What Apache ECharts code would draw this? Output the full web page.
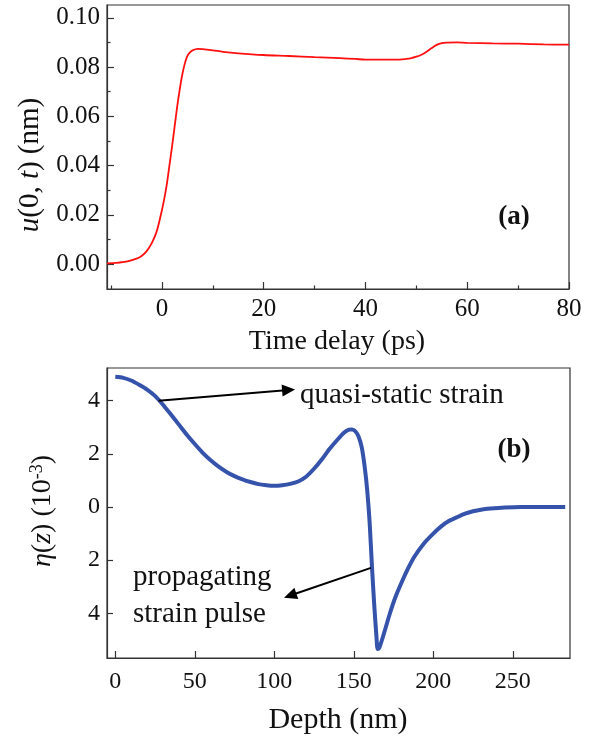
<!DOCTYPE html>
<html>
<head>
<meta charset="utf-8">
<script src="https://cdn.jsdelivr.net/npm/echarts@6/dist/echarts.min.js"></script>
<style>html,body{margin:0;padding:0;background:#fff;}#c{width:594px;height:739px;}</style>
</head>
<body>
<div id="c"></div>
<script>
// ---- Panel (a): surface displacement vs time delay ----
const timeDelay = [-10.8, -9, -7, -5, -4, -3, -2, -1, 0, 0.5, 1, 1.5, 2, 2.5, 3, 3.5, 4, 4.5, 5, 5.5, 6, 7, 8, 10, 12, 15, 20, 25, 30, 35, 38, 40, 43, 46, 48, 49, 50, 51, 52, 53, 54, 55, 56, 58, 60, 65, 70, 75, 80];
const displacement = [0.0003, 0.0005, 0.0010, 0.0022, 0.0033, 0.0053, 0.0085, 0.0135, 0.0220, 0.0270, 0.0330, 0.0405, 0.0480, 0.0560, 0.0640, 0.0710, 0.0770, 0.0815, 0.0845, 0.0860, 0.0868, 0.0874, 0.0873, 0.0868, 0.0862, 0.0856, 0.0849, 0.0845, 0.0840, 0.0836, 0.0833, 0.0830, 0.0830, 0.0830, 0.0833, 0.0836, 0.0842, 0.0850, 0.0862, 0.0877, 0.0890, 0.0897, 0.0899, 0.0900, 0.0898, 0.0896, 0.0895, 0.0892, 0.0891];
const timeTicks = [0, 20, 40, 60, 80];
const timeMinorTicks = [-10, 10, 30, 50, 70];
const uTicks = [0, 0.02, 0.04, 0.06, 0.08, 0.10];
const uMinorTicks = [0.01, 0.03, 0.05, 0.07, 0.09];

// ---- Panel (b): strain profile vs depth ----
const depth = [0, 5, 10, 15, 20, 25, 30, 35, 40, 45, 50, 55, 60, 65, 70, 75, 80, 85, 90, 95, 100, 105, 110, 115, 120, 125, 130, 135, 140, 144, 147, 149, 151, 153, 155, 157, 158.5, 160, 161.5, 163, 164.3, 165, 166, 168, 170, 173, 176, 180, 184, 188, 194, 200, 205, 210, 215, 220, 225, 230, 236, 245, 255, 270, 283];
const strain = [4.90, 4.86, 4.76, 4.60, 4.42, 4.18, 3.85, 3.48, 3.10, 2.72, 2.37, 2.04, 1.76, 1.52, 1.32, 1.16, 1.04, 0.94, 0.86, 0.82, 0.80, 0.82, 0.87, 0.96, 1.14, 1.44, 1.80, 2.20, 2.55, 2.80, 2.91, 2.92, 2.85, 2.65, 2.25, 1.45, 0.60, -0.60, -2.30, -3.80, -4.90, -5.34, -5.30, -4.95, -4.55, -3.95, -3.42, -2.85, -2.33, -1.88, -1.38, -1.00, -0.73, -0.52, -0.38, -0.25, -0.16, -0.10, -0.06, -0.02, 0, 0, 0];
const depthTicks = [0, 50, 100, 150, 200, 250];
const strainTicks = [-4, -2, 0, 2, 4];
// annotation arrows in data coordinates [depth, strain]
const arrowQuasi = [[27.2, 4.0], [109, 4.40]];
const arrowPulse = [[160.8, -2.29], [110, -3.33]];

const FONT = "'Liberation Serif','Times New Roman',serif";
const chart = echarts.init(document.getElementById('c'), null, {renderer: 'canvas'});

function zip(a, b) { return a.map((v, i) => [v, b[i]]); }

const TICK = {color: '#333', width: 1.2};
function tickAxis(grid, min, max, values, len, pos) {
  return {type: 'value', gridIndex: grid, min: min, max: max, position: pos,
    axisLine: {show: false, onZero: false},
    axisTick: {show: true, inside: true, length: len, customValues: values, lineStyle: TICK},
    axisLabel: {show: false}, splitLine: {show: false}};
}

const option = {
  backgroundColor: '#fff',
  animation: false,
  grid: [
    {left: 107, top: 5, width: 462, height: 284, show: true, borderColor: '#333', borderWidth: 1.2, backgroundColor: 'transparent'},
    {left: 107, top: 368, width: 463, height: 290, show: true, borderColor: '#333', borderWidth: 1.2, backgroundColor: 'transparent'}
  ],
  xAxis: [
    {type: 'value', gridIndex: 0, min: -10.8, max: 80, position: 'bottom',
      axisLine: {show: true, onZero: false, lineStyle: TICK},
      axisTick: {show: false},
      axisLabel: {customValues: timeTicks, color: '#111', fontFamily: FONT, fontSize: 25, margin: 8},
      splitLine: {show: false}},
    {type: 'value', gridIndex: 1, min: -5.2, max: 286, position: 'bottom',
      axisLine: {show: true, onZero: false, lineStyle: TICK},
      axisTick: {show: false},
      axisLabel: {customValues: depthTicks, color: '#111', fontFamily: FONT, fontSize: 24, margin: 12},
      splitLine: {show: false}},
    tickAxis(0, -10.8, 80, timeMinorTicks, 3.5, 'bottom'),
    tickAxis(0, -10.8, 80, timeTicks, 7, 'bottom'),
    tickAxis(1, -5.2, 286, depthTicks, 7, 'bottom')
  ],
  yAxis: [
    {type: 'value', gridIndex: 0, min: -0.0101, max: 0.1052, position: 'left',
      axisLine: {show: true, onZero: false, lineStyle: TICK},
      axisTick: {show: false},
      axisLabel: {customValues: uTicks, formatter: v => v.toFixed(2), color: '#111', fontFamily: FONT, fontSize: 25, margin: 7},
      splitLine: {show: false}},
    {type: 'value', gridIndex: 1, min: -5.68, max: 5.23, position: 'left',
      axisLine: {show: true, onZero: false, lineStyle: TICK},
      axisTick: {show: false},
      axisLabel: {customValues: strainTicks, formatter: v => String(Math.abs(v)), color: '#111', fontFamily: FONT, fontSize: 24, margin: 7},
      splitLine: {show: false}},
    tickAxis(0, -0.0101, 0.1052, uMinorTicks, 3.5, 'left'),
    tickAxis(0, -0.0101, 0.1052, uTicks, 7, 'left'),
    tickAxis(1, -5.68, 5.23, strainTicks, 6, 'left')
  ],
  series: [
    {type: 'line', xAxisIndex: 0, yAxisIndex: 0, data: zip(timeDelay, displacement), smooth: 0.3,
      showSymbol: false, lineStyle: {color: '#ff1010', width: 1.8}},
    {type: 'line', xAxisIndex: 1, yAxisIndex: 1, data: zip(depth, strain), smooth: 0.25,
      showSymbol: false, lineStyle: {color: '#3553aa', width: 4}, z: 3,
      markLine: {
        silent: true, animation: false,
        label: {show: false},
        emphasis: {disabled: true},
        data: [
          [{yAxis: 0, symbol: 'none', lineStyle: {color: '#555', width: 1.5, type: 'solid'}}, {yAxis: 0, symbol: 'none'}],
          [{coord: arrowQuasi[0], symbol: 'none', lineStyle: {color: '#000', width: 2, type: 'solid'}}, {coord: arrowQuasi[1], symbol: 'triangle', symbolSize: [12, 13]}],
          [{coord: arrowPulse[0], symbol: 'none', lineStyle: {color: '#000', width: 2, type: 'solid'}}, {coord: arrowPulse[1], symbol: 'triangle', symbolSize: [12, 13]}]
        ]
      }}
  ],
  graphic: [
    {type: 'text', x: 337, y: 342, style: {text: 'Time delay (ps)', fontFamily: FONT, fontSize: 28, fill: '#111', align: 'center', verticalAlign: 'middle'}},
    {type: 'text', x: 30, y: 165, rotation: Math.PI / 2, style: {
      text: '{i|u}(0, {i|t}) (nm)', fontFamily: FONT, fontSize: 29, fill: '#111', align: 'center', verticalAlign: 'middle',
      rich: {i: {fontFamily: FONT, fontSize: 29, fontStyle: 'italic', fill: '#111'}}}},
    {type: 'text', x: 514, y: 217, style: {text: '(a)', fontFamily: FONT, fontSize: 27, fontWeight: 'bold', fill: '#111', align: 'center', verticalAlign: 'middle'}},
    {type: 'text', x: 300, y: 395, style: {text: 'quasi-static strain', fontFamily: FONT, fontSize: 29, fill: '#111', align: 'left', verticalAlign: 'middle'}},
    {type: 'text', x: 514, y: 450, style: {text: '(b)', fontFamily: FONT, fontSize: 27, fontWeight: 'bold', fill: '#111', align: 'center', verticalAlign: 'middle'}},
    {type: 'text', x: 133, y: 596, style: {text: 'propagating\nstrain pulse', fontFamily: FONT, fontSize: 29, lineHeight: 37, fill: '#111', align: 'left', verticalAlign: 'middle'}},
    {type: 'text', x: 338, y: 720, style: {text: 'Depth (nm)', fontFamily: FONT, fontSize: 30, fill: '#111', align: 'center', verticalAlign: 'middle'}},
    {type: 'text', x: 43, y: 511, rotation: Math.PI / 2, style: {
      text: '{i|η}({i|z}) (10{s|-3})', fontFamily: FONT, fontSize: 28, fill: '#111', align: 'center', verticalAlign: 'middle',
      rich: {
        i: {fontFamily: FONT, fontSize: 28, fontStyle: 'italic', fill: '#111'},
        s: {fontFamily: FONT, fontSize: 18, fill: '#111', padding: [0, 0, 12, 0]}
      }}}
  ]
};
chart.setOption(option);
</script>
</body>
</html>
